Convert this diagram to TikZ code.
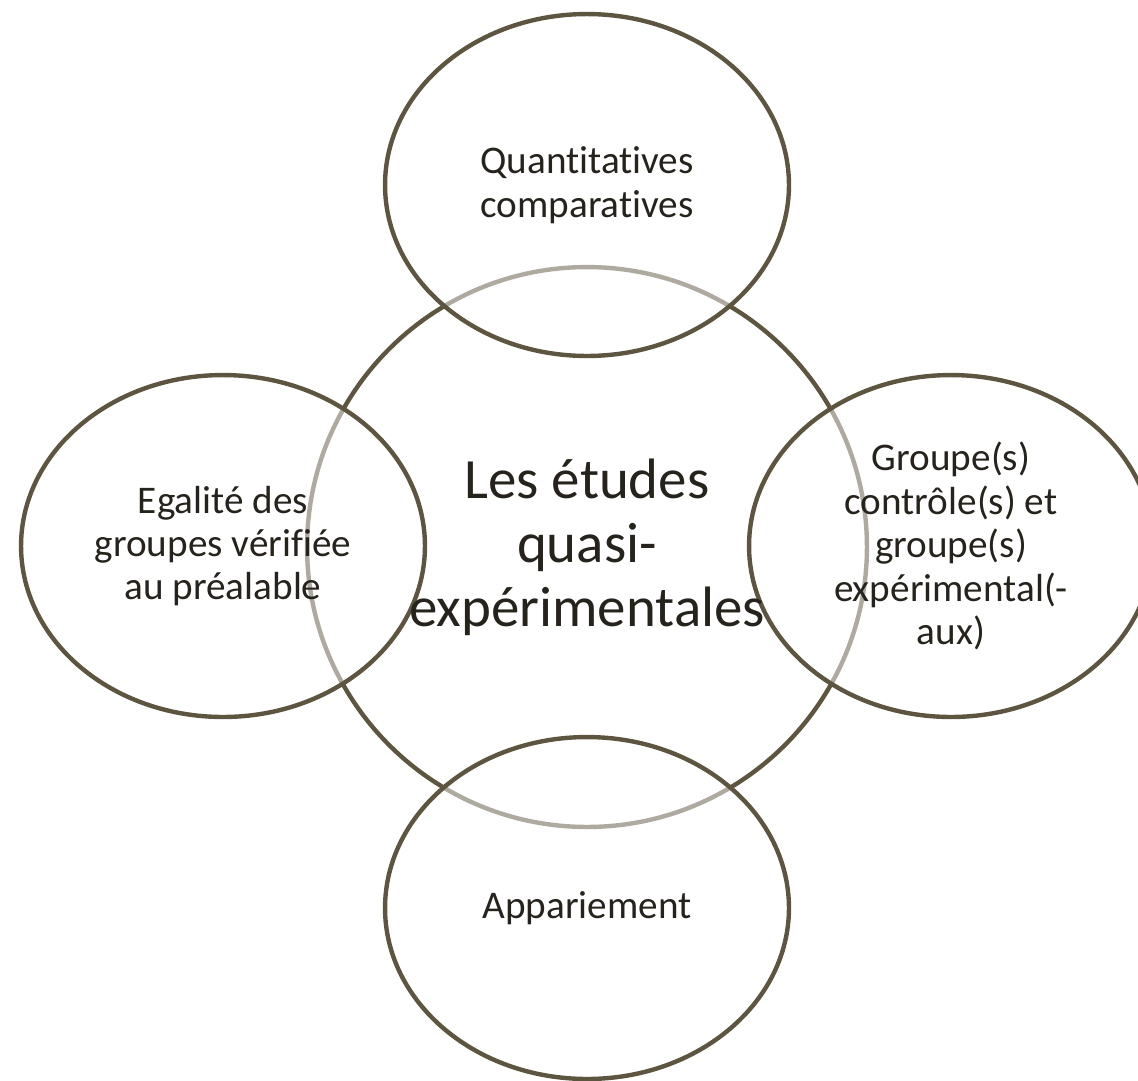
\documentclass[tikz,border=0pt]{standalone}
\usepackage{fontspec}
\setmainfont{Carlito}[Ligatures=NoCommon]
\usetikzlibrary{shapes.geometric}
\definecolor{rim}{RGB}{93,85,64}
\definecolor{ink}{RGB}{38,35,28}
\tikzset{
	hub/.style={circle, draw=rim, line width=2.5pt, minimum size=11.2cm, inner sep=0pt},
	hubtext/.style={text=ink, align=center, font=\fontsize{32.4}{36.4}\selectfont},
	petal/.style={ellipse, draw=rim, line width=2.5pt, fill=white, fill opacity=0.5, text opacity=1,
		text=ink, minimum width=8.08cm, minimum height=6.84cm, inner sep=0pt, align=center,
		font=\fontsize{22.3}{24.7}\selectfont}
}

\begin{document}
\begin{tikzpicture}[x=0.02cm, y=-0.02cm]
			%%%%% START %%%%%
			\useasboundingbox (0, 0) rectangle (1138, 1080);
			
			\node[hub] (hub) at (587, 547) {};
			
			\node[petal] (top) at (587, 185) {Quantitatives\\comparatives};
			\node[petal] (left) at (223, 546) {Egalité des\\groupes vérifiée\\au préalable};
			\node[petal] (right) at (951, 546) {Groupe(s)\\contrôle(s) et\\groupe(s)\\expérimental(-\\aux)};
			\node[petal] (bottom) at (587, 908) {Appariement};
			
			\node[hubtext] (hubtext) at (hub) {Les études\\quasi-\\expérimentales};
			%%%%% END %%%%%
\end{tikzpicture}
\end{document}
